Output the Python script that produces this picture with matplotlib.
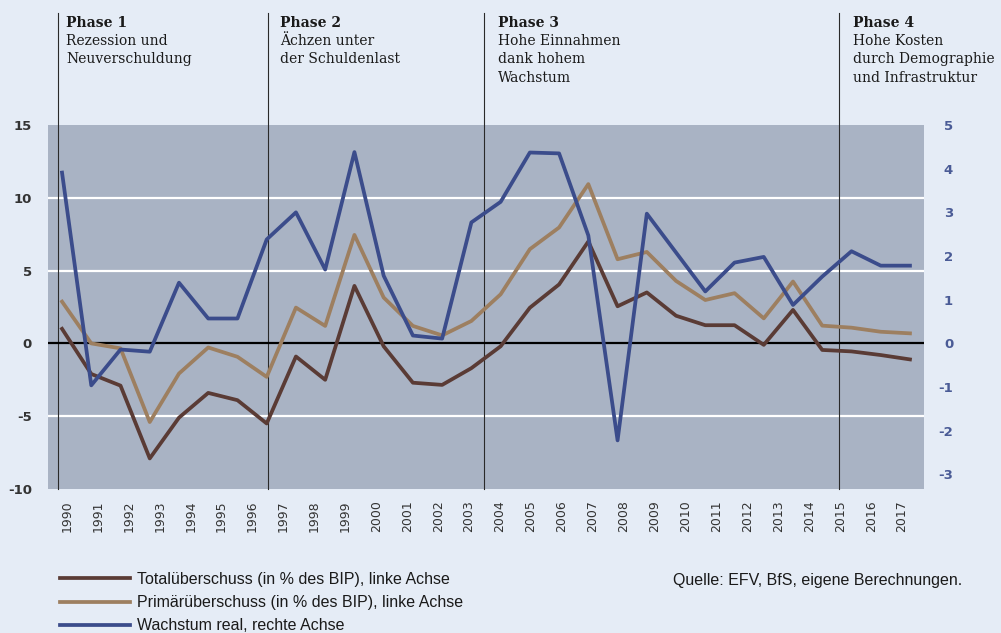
import numpy as np
import matplotlib
matplotlib.use("Agg")
import matplotlib.pyplot as plt
import matplotlib.transforms as mtransforms

# ---------------- data ----------------
year_labels = [str(y) for y in range(1990, 2018)]

total = [1.0, -2.1, -2.9, -7.9, -5.1, -3.4, -3.9, -5.5, -0.9, -2.5,
         3.95, -0.2, -2.7, -2.85, -1.7, -0.2, 2.45, 4.05, 7.0, 2.55,
         3.5, 1.9, 1.25, 1.25, -0.1, 2.3, -0.45, -0.55, -0.8, -1.1]
primaer = [2.87, 0.0, -0.34, -5.4, -2.07, -0.28, -0.92, -2.3, 2.46, 1.2,
           7.45, 3.15, 1.2, 0.55, 1.54, 3.37, 6.47, 7.96, 10.94, 5.78,
           6.28, 4.29, 2.98, 3.45, 1.72, 4.25, 1.22, 1.08, 0.80, 0.69]
wachstum = [3.91, -0.96, -0.14, -0.19, 1.39, 0.57, 0.57, 2.38, 3.0, 1.69,
            4.38, 1.55, 0.18, 0.11, 2.77, 3.24, 4.37, 4.35, 2.47, -2.22,
            2.97, 2.08, 1.19, 1.85, 1.98, 0.88, 1.53, 2.11, 1.78, 1.78]

phases = [("Phase 1", "Rezession und\nNeuverschuldung"),
          ("Phase 2", "Ächzen unter\nder Schuldenlast"),
          ("Phase 3", "Hohe Einnahmen\ndank hohem\nWachstum"),
          ("Phase 4", "Hohe Kosten\ndurch Demographie\nund Infrastruktur")]
phase_pos = [-0.14, 7.05, 14.43, 26.57]

legend_labels = ["Totalüberschuss (in % des BIP), linke Achse",
                 "Primärüberschuss (in % des BIP), linke Achse",
                 "Wachstum real, rechte Achse"]
source_text = "Quelle: EFV, BfS, eigene Berechnungen."

left_ticks = [15, 10, 5, 0, -5, -10]
right_ticks = [5, 4, 3, 2, 1, 0, -1, -2, -3]

# ---------------- style ----------------
page_bg = "#e5ecf6"
plot_bg = "#a9b3c4"
c_total = "#5a3b35"
c_prim = "#9d7f60"
c_wachs = "#3b4c8b"
c_text = "#333333"
phase_text_offset_px = [8, 12, 14, 14]

W, H = 1001, 633
fig = plt.figure(figsize=(W / 100, H / 100), dpi=100, facecolor=page_bg)
ax_l, ax_r, ax_t, ax_b = 48, 924, 125, 489
ax = fig.add_axes([ax_l / W, 1 - ax_b / H, (ax_r - ax_l) / W, (ax_b - ax_t) / H])
ax.set_facecolor(plot_bg)
ax2 = ax.twinx()
ax2.patch.set_visible(False)

x = np.arange(len(total))
ax.set_xlim(-0.48, len(total) - 0.52)
ax.set_ylim(-10, 15)
ax2.set_ylim(-10 / 3, 5)

for s in list(ax.spines.values()) + list(ax2.spines.values()):
    s.set_visible(False)

# grid lines
for v in left_ticks:
    if v not in (15, -10, 0):
        ax.axhline(v, color="white", lw=1.6, zorder=1)
ax.axhline(0, color="black", lw=1.6, zorder=2)

# phase lines and texts
top_frac = (ax_b - 13) / (ax_b - ax_t)
trans = mtransforms.blended_transform_factory(ax.transData, ax.transAxes)
for (title, body), px, off in zip(phases, phase_pos, phase_text_offset_px):
    ax.axvline(px, ymin=0, ymax=top_frac, color="#2a2a2a", lw=0.8,
               clip_on=False, zorder=1.5)
    off_pt = off * 0.72
    ax.annotate(title, xy=(px, top_frac), xycoords=trans,
                xytext=(off_pt, -2), textcoords="offset points",
                ha="left", va="top", fontsize=10, fontweight="bold",
                family="DejaVu Serif", color="#1a1a1a", annotation_clip=False)
    ax.annotate(body, xy=(px, top_frac), xycoords=trans,
                xytext=(off_pt, -15.3), textcoords="offset points",
                ha="left", va="top", fontsize=10, linespacing=1.38,
                family="DejaVu Serif", color="#1a1a1a", annotation_clip=False)

l1, = ax.plot(x, total, color=c_total, lw=2.7, zorder=3)
l2, = ax.plot(x, primaer, color=c_prim, lw=2.7, zorder=2.5)
l3, = ax2.plot(x, wachstum, color=c_wachs, lw=2.7, zorder=3)

# ticks
ax.set_xticks(np.linspace(0.17, 28.73, len(year_labels)))
ax.set_xticklabels(year_labels, rotation=90, fontsize=9, color=c_text,
                   family="DejaVu Sans")
ax.tick_params(axis="x", length=0, pad=8)

ax.set_yticks(left_ticks)
ax.set_yticklabels([str(v) for v in left_ticks], fontsize=9.5, color=c_text,
                   fontweight="bold", family="DejaVu Sans")
ax.tick_params(axis="y", length=0, pad=11.5)

ax2.set_yticks(right_ticks)
ax2.set_yticklabels([str(v) for v in right_ticks], fontsize=9.5, color="#4a5b96",
                    fontweight="bold", family="DejaVu Sans")
ax2.tick_params(axis="y", length=0, pad=21)
for t in ax2.get_yticklabels():
    t.set_ha("right")

# legend
sans = ["Liberation Sans", "DejaVu Sans"]
leg = fig.legend([l1, l2, l3], legend_labels, loc="upper left",
                 bbox_to_anchor=(55 / W, 1 - 567 / H), frameon=False,
                 handlelength=4.4, handletextpad=0.45, labelspacing=0.52,
                 borderaxespad=0, borderpad=0.3,
                 prop={"family": sans, "size": 11.5})
for t in leg.get_texts():
    t.set_color("#1a1a1a")

fig.text(962 / W, 1 - 580 / H, source_text, ha="right", va="center",
         fontsize=11.5, family=sans, color="#1a1a1a")

fig.savefig("out.png", dpi=100, facecolor=page_bg)
